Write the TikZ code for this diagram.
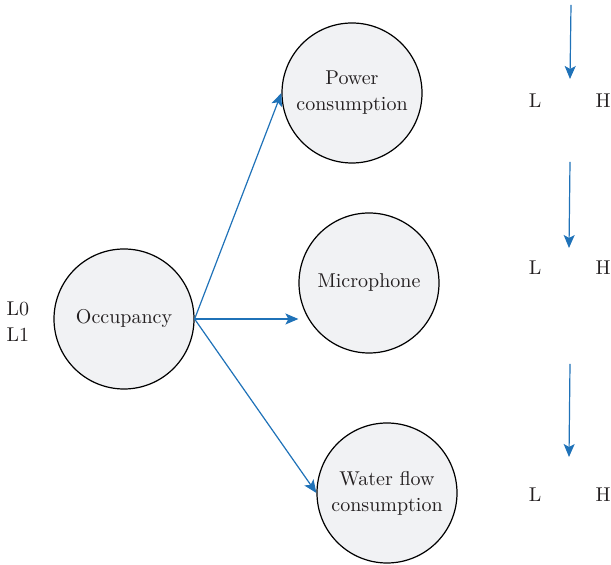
\documentclass[tikz,border=0pt]{standalone}
\usepackage{tikz}
\usetikzlibrary{arrows.meta}
\definecolor{arrowblue}{HTML}{1F72B8}
\definecolor{nodegray}{HTML}{F1F2F4}
\definecolor{textgray}{HTML}{231F20}

\begin{document}
\begin{tikzpicture}[x=0.5pt,y=-0.5pt]
		\tikzstyle{every node}+=[text=textgray,font=\fontsize{10}{13}\selectfont]
		\tikzstyle{state}=[circle,draw=black,line width=0.6pt,fill=nodegray,minimum size=70pt,inner sep=0pt,align=center]
		\tikzstyle{link}=[draw=arrowblue,line width=0.6pt,-{Stealth[length=6.5pt,width=5.5pt,inset=1.5pt]}]
		\useasboundingbox (0,0) rectangle (611,565);
		% network nodes
		\node [state] (occ) at (124,319) {Occupancy};
		\node [state] (pow) at (352,93) {Power\\consumption};
		\node [state] (mic) at (369,283) {Microphone};
		\node [state] (wat) at (387,493) {Water flow\\consumption};
		\node (l0) at (18,309) {L0};
		\node (l1) at (18,335) {L1};
		% parent to children
		\draw [link] (occ.east) -- (pow.west);
		\draw [link] (occ.east) -- (occ.east -| mic.west);
		\draw [link] (occ.east) -- (wat.west);
		% states of the children
		\node (powl) at (535,101) {L};
		\node (powh) at (603,101) {H};
		\node (micl) at (535,268) {L};
		\node (mich) at (603,268) {H};
		\node (watl) at (535,495) {L};
		\node (wath) at (603,495) {H};
		\coordinate (pows) at (571,5);
		\coordinate (powe) at (570,79);
		\coordinate (mics) at (570,162);
		\coordinate (mice) at (569,248);
		\coordinate (wats) at (570,364);
		\coordinate (wate) at (569,457);
		\draw [link] (pows) -- (powe);
		\draw [link] (mics) -- (mice);
		\draw [link] (wats) -- (wate);
	\end{tikzpicture}
\end{document}
